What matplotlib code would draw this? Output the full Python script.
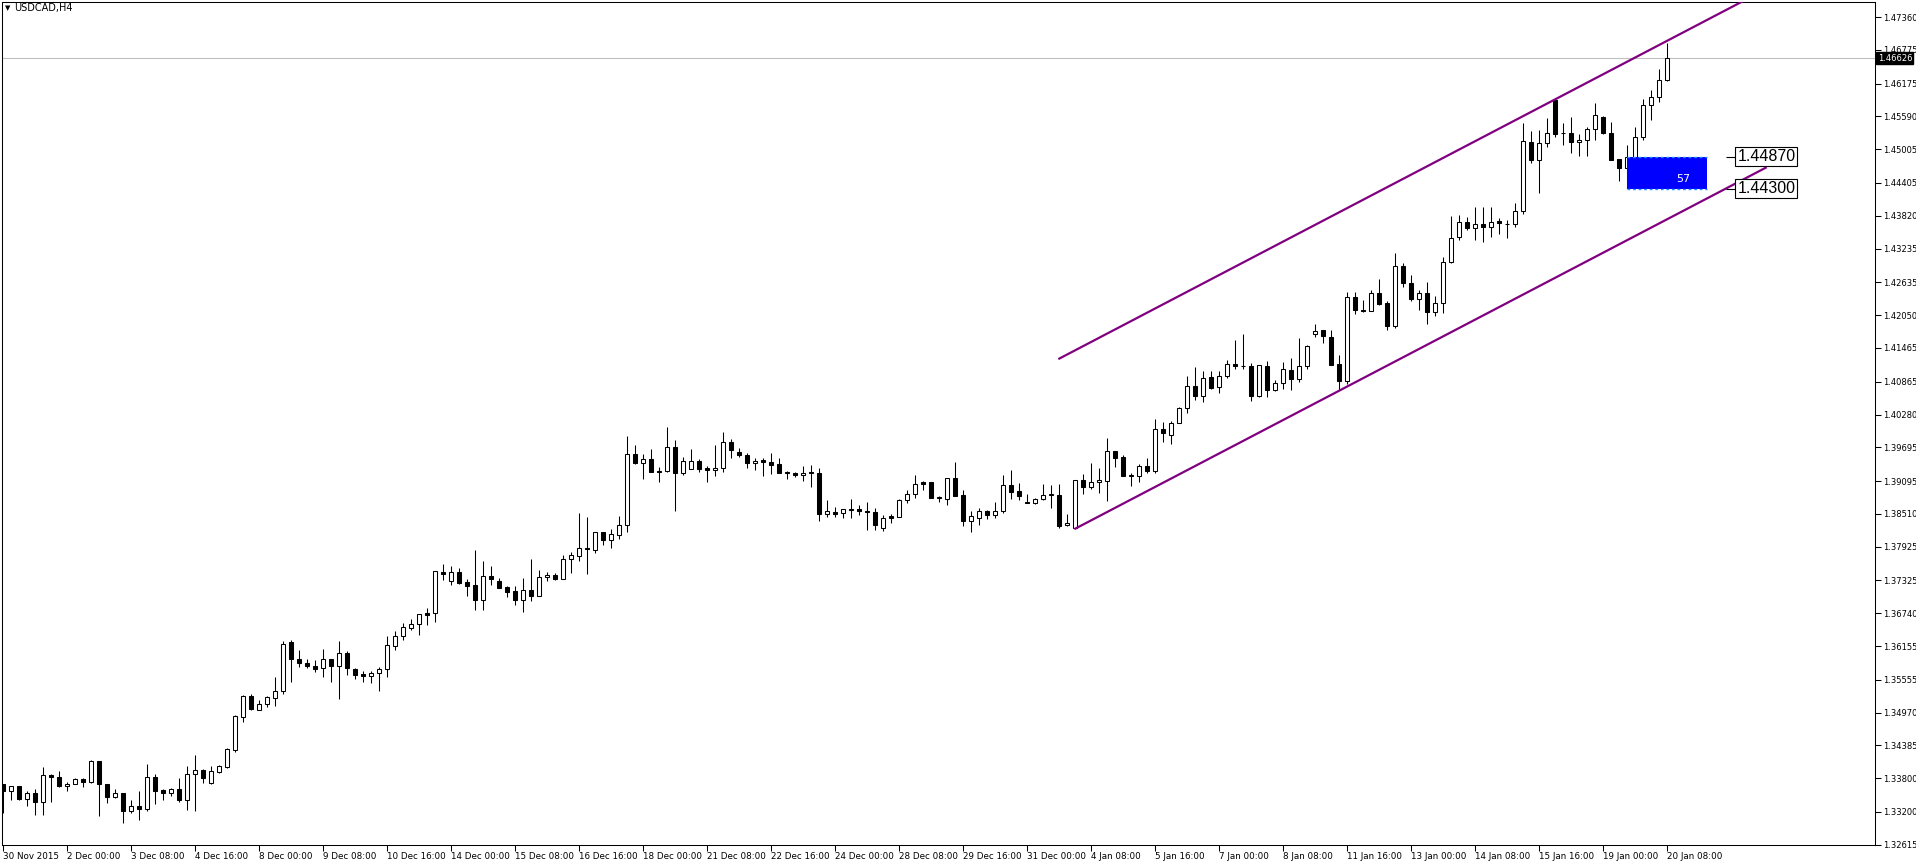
"""
USDCAD H4 candlestick chart, MetaTrader style, with a rising channel
and a marked support zone.
"""

import numpy as np
import matplotlib
matplotlib.use('Agg')
import matplotlib.pyplot as plt
from matplotlib.transforms import blended_transform_factory

# --- OHLC per H4 bar -----------------------------------------------------
opens = [
    1.3369, 1.3358, 1.3366, 1.3344, 1.3354, 1.3337, 1.3386, 1.3382, 1.3366, 1.3369,
    1.3379, 1.3374, 1.3411, 1.3370, 1.3347, 1.3354, 1.3321, 1.3331, 1.3326, 1.3382,
    1.3359, 1.3354, 1.3361, 1.3342, 1.3387, 1.3395, 1.3372, 1.3392, 1.3401, 1.3431,
    1.3490, 1.3527, 1.3502, 1.3512, 1.3523, 1.3535, 1.3622, 1.3593, 1.3585, 1.3580,
    1.3576, 1.3593, 1.3580, 1.3604, 1.3574, 1.3566, 1.3563, 1.3567, 1.3575, 1.3616,
    1.3634, 1.3648, 1.3654, 1.3674, 1.3675, 1.3748, 1.3732, 1.3748, 1.3729, 1.3724,
    1.3698, 1.3741, 1.3731, 1.3720, 1.3713, 1.3698, 1.3716, 1.3705, 1.3738, 1.3743,
    1.3735, 1.3771, 1.3776, 1.3791, 1.3787, 1.3819, 1.3805, 1.3814, 1.3832, 1.3958,
    1.3942, 1.3948, 1.3928, 1.3927, 1.3971, 1.3924, 1.3931, 1.3946, 1.3932, 1.3930,
    1.3933, 1.3979, 1.3962, 1.3955, 1.3942, 1.3947, 1.3944, 1.3939, 1.3925, 1.3923,
    1.3921, 1.3925, 1.3923, 1.3851, 1.3854, 1.3853, 1.3860, 1.3859, 1.3857, 1.3855,
    1.3826, 1.3847, 1.3846, 1.3875, 1.3887, 1.3907, 1.3907, 1.3881, 1.3878, 1.3915,
    1.3884, 1.3838, 1.3844, 1.3856, 1.3849, 1.3856, 1.3903, 1.3891, 1.3872, 1.3870,
    1.3878, 1.3885, 1.3885, 1.3831, 1.3825, 1.3912, 1.3899, 1.3908, 1.3910, 1.3963,
    1.3953, 1.3918, 1.3918, 1.3937, 1.3927, 1.4003, 1.3991, 1.4013, 1.4040, 1.4079,
    1.4061, 1.4094, 1.4077, 1.4096, 1.4118, 1.4115, 1.4115, 1.4061, 1.4115, 1.4072,
    1.4084, 1.4108, 1.4092, 1.4115, 1.4172, 1.4178, 1.4166, 1.4118, 1.4088, 1.4237,
    1.4214, 1.4213, 1.4245, 1.4226, 1.4186, 1.4293, 1.4262, 1.4234, 1.4244, 1.4211,
    1.4227, 1.4299, 1.4345, 1.4371, 1.4360, 1.4368, 1.4362, 1.4373, 1.4368, 1.4367,
    1.4390, 1.4513, 1.4481, 1.4511, 1.4588, 1.4530, 1.4529, 1.4513, 1.4517, 1.4536,
    1.4558, 1.4529, 1.4483, 1.4467, 1.4486, 1.4522, 1.4579, 1.4593, 1.4623,
]
highs = [
    1.3369, 1.3366, 1.3366, 1.3358, 1.3361, 1.3400, 1.3388, 1.3393, 1.3374, 1.3380,
    1.3380, 1.3412, 1.3411, 1.3370, 1.3361, 1.3354, 1.3341, 1.3358, 1.3405, 1.3388,
    1.3361, 1.3362, 1.3380, 1.3402, 1.3421, 1.3396, 1.3402, 1.3404, 1.3434, 1.3492,
    1.3528, 1.3530, 1.3520, 1.3527, 1.3560, 1.3625, 1.3627, 1.3609, 1.3592, 1.3590,
    1.3611, 1.3593, 1.3624, 1.3606, 1.3576, 1.3571, 1.3571, 1.3579, 1.3633, 1.3643,
    1.3656, 1.3663, 1.3673, 1.3684, 1.3749, 1.3761, 1.3759, 1.3755, 1.3735, 1.3786,
    1.3767, 1.3758, 1.3736, 1.3722, 1.3722, 1.3736, 1.3770, 1.3751, 1.3747, 1.3745,
    1.3778, 1.3783, 1.3852, 1.3845, 1.3819, 1.3819, 1.3824, 1.3848, 1.3989, 1.3973,
    1.3957, 1.3966, 1.3934, 1.4005, 1.3982, 1.3953, 1.3966, 1.3949, 1.3937, 1.3973,
    1.3996, 1.3984, 1.3969, 1.3959, 1.3951, 1.3950, 1.3959, 1.3950, 1.3927, 1.3926,
    1.3936, 1.3938, 1.3932, 1.3875, 1.3863, 1.3860, 1.3878, 1.3866, 1.3872, 1.3862,
    1.3849, 1.3851, 1.3877, 1.3893, 1.3920, 1.3909, 1.3908, 1.3883, 1.3915, 1.3943,
    1.3893, 1.3856, 1.3861, 1.3858, 1.3873, 1.3921, 1.3930, 1.3906, 1.3887, 1.3880,
    1.3905, 1.3903, 1.3905, 1.3850, 1.3912, 1.3922, 1.3942, 1.3932, 1.3987, 1.3963,
    1.3955, 1.3923, 1.3940, 1.3951, 1.4020, 1.4015, 1.4017, 1.4042, 1.4097, 1.4112,
    1.4106, 1.4106, 1.4106, 1.4125, 1.4160, 1.4172, 1.4119, 1.4116, 1.4124, 1.4090,
    1.4121, 1.4129, 1.4164, 1.4152, 1.4190, 1.4179, 1.4178, 1.4134, 1.4247, 1.4246,
    1.4232, 1.4249, 1.4270, 1.4231, 1.4316, 1.4298, 1.4277, 1.4250, 1.4264, 1.4239,
    1.4309, 1.4382, 1.4384, 1.4380, 1.4398, 1.4398, 1.4398, 1.4378, 1.4374, 1.4405,
    1.4547, 1.4533, 1.4534, 1.4556, 1.4591, 1.4548, 1.4558, 1.4527, 1.4540, 1.4582,
    1.4560, 1.4549, 1.4483, 1.4508, 1.4541, 1.4590, 1.4606, 1.4644, 1.4690,
]
lows = [
    1.3318, 1.3342, 1.3342, 1.3331, 1.3315, 1.3315, 1.3338, 1.3364, 1.3358, 1.3369,
    1.3364, 1.3371, 1.3313, 1.3336, 1.3345, 1.3300, 1.3318, 1.3306, 1.3321, 1.3335,
    1.3342, 1.3348, 1.3337, 1.3324, 1.3322, 1.3371, 1.3370, 1.3390, 1.3398, 1.3427,
    1.3481, 1.3502, 1.3501, 1.3507, 1.3509, 1.3531, 1.3552, 1.3579, 1.3576, 1.3570,
    1.3561, 1.3552, 1.3522, 1.3564, 1.3557, 1.3552, 1.3550, 1.3536, 1.3561, 1.3608,
    1.3626, 1.3645, 1.3636, 1.3653, 1.3658, 1.3733, 1.3724, 1.3726, 1.3705, 1.3680,
    1.3680, 1.3724, 1.3719, 1.3703, 1.3689, 1.3676, 1.3696, 1.3705, 1.3732, 1.3733,
    1.3735, 1.3746, 1.3767, 1.3744, 1.3781, 1.3796, 1.3790, 1.3806, 1.3819, 1.3940,
    1.3913, 1.3926, 1.3908, 1.3926, 1.3856, 1.3920, 1.3931, 1.3926, 1.3908, 1.3918,
    1.3926, 1.3950, 1.3952, 1.3933, 1.3929, 1.3918, 1.3922, 1.3923, 1.3914, 1.3917,
    1.3910, 1.3899, 1.3838, 1.3846, 1.3845, 1.3844, 1.3844, 1.3849, 1.3822, 1.3822,
    1.3821, 1.3835, 1.3846, 1.3871, 1.3880, 1.3893, 1.3879, 1.3872, 1.3867, 1.3883,
    1.3829, 1.3819, 1.3831, 1.3842, 1.3844, 1.3853, 1.3878, 1.3876, 1.3870, 1.3869,
    1.3875, 1.3861, 1.3826, 1.3829, 1.3825, 1.3887, 1.3895, 1.3888, 1.3874, 1.3934,
    1.3918, 1.3900, 1.3908, 1.3923, 1.3924, 1.3979, 1.3975, 1.4013, 1.4030, 1.4054,
    1.4050, 1.4074, 1.4066, 1.4093, 1.4109, 1.4109, 1.4052, 1.4059, 1.4059, 1.4070,
    1.4074, 1.4071, 1.4086, 1.4109, 1.4166, 1.4156, 1.4116, 1.4071, 1.4083, 1.4207,
    1.4210, 1.4212, 1.4223, 1.4178, 1.4182, 1.4255, 1.4231, 1.4215, 1.4189, 1.4203,
    1.4208, 1.4297, 1.4339, 1.4356, 1.4338, 1.4335, 1.4345, 1.4349, 1.4343, 1.4362,
    1.4385, 1.4476, 1.4422, 1.4504, 1.4523, 1.4508, 1.4494, 1.4488, 1.4488, 1.4517,
    1.4527, 1.4482, 1.4444, 1.4432, 1.4485, 1.4517, 1.4553, 1.4585, 1.4622,
]
closes = [
    1.3358, 1.3366, 1.3344, 1.3354, 1.3337, 1.3386, 1.3382, 1.3367, 1.3370, 1.3379,
    1.3374, 1.3411, 1.3369, 1.3347, 1.3354, 1.3321, 1.3331, 1.3326, 1.3382, 1.3358,
    1.3354, 1.3361, 1.3342, 1.3388, 1.3395, 1.3381, 1.3393, 1.3402, 1.3432, 1.3491,
    1.3527, 1.3503, 1.3512, 1.3524, 1.3535, 1.3620, 1.3593, 1.3586, 1.3580, 1.3575,
    1.3593, 1.3580, 1.3604, 1.3577, 1.3564, 1.3563, 1.3567, 1.3575, 1.3617, 1.3633,
    1.3649, 1.3654, 1.3672, 1.3671, 1.3749, 1.3744, 1.3748, 1.3727, 1.3723, 1.3698,
    1.3741, 1.3735, 1.3719, 1.3712, 1.3698, 1.3716, 1.3705, 1.3738, 1.3743, 1.3735,
    1.3771, 1.3777, 1.3791, 1.3789, 1.3819, 1.3805, 1.3815, 1.3832, 1.3958, 1.3942,
    1.3948, 1.3926, 1.3926, 1.3971, 1.3924, 1.3946, 1.3946, 1.3931, 1.3930, 1.3933,
    1.3979, 1.3965, 1.3955, 1.3942, 1.3946, 1.3944, 1.3938, 1.3923, 1.3923, 1.3921,
    1.3924, 1.3923, 1.3851, 1.3857, 1.3851, 1.3859, 1.3858, 1.3856, 1.3854, 1.3832,
    1.3844, 1.3844, 1.3875, 1.3887, 1.3905, 1.3904, 1.3879, 1.3879, 1.3915, 1.3883,
    1.3838, 1.3847, 1.3857, 1.3849, 1.3857, 1.3903, 1.3890, 1.3883, 1.3870, 1.3878,
    1.3885, 1.3886, 1.3829, 1.3835, 1.3912, 1.3899, 1.3908, 1.3911, 1.3963, 1.3950,
    1.3918, 1.3920, 1.3937, 1.3927, 1.4003, 1.3995, 1.4013, 1.4040, 1.4079, 1.4061,
    1.4093, 1.4075, 1.4097, 1.4118, 1.4114, 1.4114, 1.4061, 1.4116, 1.4072, 1.4084,
    1.4109, 1.4092, 1.4115, 1.4150, 1.4177, 1.4167, 1.4117, 1.4088, 1.4237, 1.4215,
    1.4212, 1.4245, 1.4224, 1.4186, 1.4293, 1.4262, 1.4233, 1.4244, 1.4211, 1.4227,
    1.4300, 1.4342, 1.4371, 1.4360, 1.4368, 1.4362, 1.4371, 1.4370, 1.4368, 1.4390,
    1.4515, 1.4482, 1.4511, 1.4529, 1.4528, 1.4529, 1.4513, 1.4517, 1.4536, 1.4561,
    1.4529, 1.4482, 1.4467, 1.4486, 1.4522, 1.4579, 1.4593, 1.4624, 1.4663,
]

# one date label every 8 bars (32 hours)
date_labels = [
    '30 Nov 2015', '2 Dec 00:00', '3 Dec 08:00', '4 Dec 16:00', '8 Dec 00:00',
    '9 Dec 08:00', '10 Dec 16:00', '14 Dec 00:00', '15 Dec 08:00', '16 Dec 16:00',
    '18 Dec 00:00', '21 Dec 08:00', '22 Dec 16:00', '24 Dec 00:00', '28 Dec 08:00',
    '29 Dec 16:00', '31 Dec 00:00', '4 Jan 08:00', '5 Jan 16:00', '7 Jan 00:00',
    '8 Jan 08:00', '11 Jan 16:00', '13 Jan 00:00', '14 Jan 08:00', '15 Jan 16:00',
    '19 Jan 00:00', '20 Jan 08:00',
]
price_ticks = [
    1.47360, 1.46775, 1.46175, 1.45590, 1.45005, 1.44405, 1.43820, 1.43235,
    1.42635, 1.42050, 1.41465, 1.40865, 1.40280, 1.39695, 1.39095, 1.38510,
    1.37925, 1.37325, 1.36740, 1.36155, 1.35555, 1.34970, 1.34385, 1.33800,
    1.33200, 1.32615,
]

bid_price = 1.46626

# channel trendlines (bar index, price)
upper_bars = [132, 219]
upper_prices = [1.41276, 1.47758]
lower_bars = [134, 220.3]
lower_prices = [1.38247, 1.44676]

# support zone rectangle
zone_bars = [203, 213]
zone_prices = [1.44300, 1.44870]
zone_text = '57'

PURPLE = '#800080'

fig = plt.figure(figsize=(19.16, 8.66), dpi=100)
ax = fig.add_axes([2 / 1916, 21 / 866, 1873 / 1916, 842.5 / 866])

o = np.array(opens)
h = np.array(highs)
l = np.array(lows)
c = np.array(closes)
x = np.arange(len(o))
up = c >= o

# candles: wicks first, bodies on top
ax.vlines(x, l, h, color='black', linewidth=0.75, zorder=2)
ax.bar(x, np.maximum(np.abs(c - o), 1e-5), bottom=np.minimum(o, c), width=0.5,
       color=['white' if u else 'black' for u in up], edgecolor='black',
       linewidth=0.75, zorder=3)

# bid line
ax.axhline(bid_price, color='#C0C0C0', linewidth=0.8, zorder=1)

# channel
ax.plot(upper_bars, upper_prices, color=PURPLE, linewidth=1.6, zorder=4)
ax.plot(lower_bars, lower_prices, color=PURPLE, linewidth=1.6, zorder=4)

# zone
ax.fill_between(zone_bars, zone_prices[0], zone_prices[1], color='#0000FF',
                linewidth=0, zorder=4)
ax.hlines(zone_prices, zone_bars[0], zone_bars[1], colors='#1E90FF',
          linestyles=(0, (2, 2)), linewidth=1, zorder=5)
ax.text(210, zone_prices[0] + 0.32 * (zone_prices[1] - zone_prices[0]), zone_text,
        color='white', fontsize=8, ha='center', va='center', zorder=6)

# price labels for the zone
ax.hlines(zone_prices, 215.3, 216.7, colors='black', linewidth=0.8, zorder=5)
for p in zone_prices:
    ax.text(216.75, p, f'{p:.5f}', fontsize=11.5, family='Liberation Sans',
            ha='left', va='center', zorder=6,
            bbox=dict(boxstyle='square,pad=0.12', fc='white', ec='black', lw=0.8))

# axes
ax.set_xlim(-0.16, 233.96)
ax.set_ylim(1.32612, 1.47619)
ax.set_xticks(x[::8])
ax.set_xticklabels(date_labels, ha='left', fontsize=6.3)
ax.tick_params(axis='x', direction='out', length=4, width=0.75, pad=1)
ax.yaxis.tick_right()
ax.set_yticks(price_ticks)
ax.set_yticklabels([f'{p:.5f}' for p in price_ticks], fontsize=6)
ax.tick_params(axis='y', direction='out', length=4, width=0.75, pad=1.5)
for s in ax.spines.values():
    s.set_linewidth(0.75)

# bid price box on the scale
trans = blended_transform_factory(ax.transAxes, ax.transData)
ax.text(1.0014, bid_price, f'{bid_price:.5f}', transform=trans, ha='left',
        va='center', fontsize=6, color='white', clip_on=False, zorder=7,
        bbox=dict(boxstyle='square,pad=0.15', fc='black', ec='black'))

# chart title
fig.text(5 / 1916, 1 - 8 / 866, '\u25bc', fontsize=5, va='center', ha='left')
fig.text(14 / 1916, 1 - 8 / 866, 'USDCAD,H4', fontsize=7, va='center', ha='left')

fig.savefig('out.png', dpi=100)
plt.close()
